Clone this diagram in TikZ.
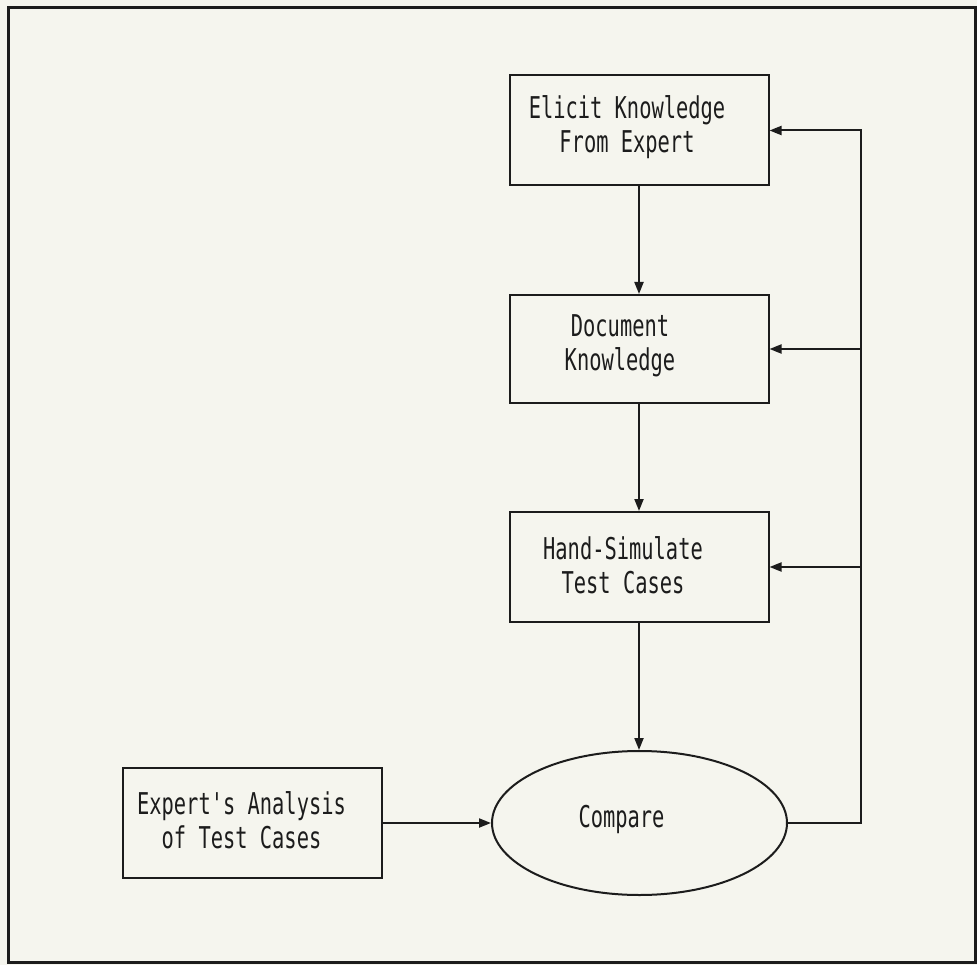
\documentclass[tikz,border=0pt]{standalone}
\usepackage{fontspec}
\newfontfamily\plotfont[FakeStretch=0.68]{DejaVu Sans Mono}
\usetikzlibrary{arrows.meta,shapes.geometric}
\definecolor{bgcol}{RGB}{245,245,238}
\definecolor{ink}{RGB}{28,28,28}
\begin{document}
\begin{tikzpicture}[x=1pt,y=-1pt,
  box/.style={draw=ink, line width=2pt, minimum width=259pt, minimum height=110pt,
    inner sep=0pt},
  oval/.style={ellipse, draw=ink, line width=2pt, minimum width=295pt, minimum height=144pt,
    inner sep=0pt},
  lbl/.style={align=center, text=ink, inner sep=0pt, font=\plotfont\fontsize{30}{34}\selectfont},
  conn/.style={draw=ink, line width=2pt, -{Triangle[length=12pt,width=9pt]}}]
\fill[bgcol] (0,0) rectangle (977,965);
\useasboundingbox (0,0) rectangle (977,965);
\draw[ink, line width=3pt] (8,8) rectangle (975,962);

\node[box, label={[lbl, xshift=-12pt, yshift=3pt]center:{Elicit Knowledge\\From Expert}}] (elicit) at (639,130.5) {};
\node[box, minimum height=108pt, label={[lbl, xshift=-19pt, yshift=3pt]center:{Document\\Knowledge}}] (doc) at (639,349) {};
\node[box, label={[lbl, xshift=-16pt, yshift=2pt]center:{Hand-Simulate\\Test Cases}}] (hand) at (639,567) {};
\node[box, label={[lbl, xshift=-11pt, yshift=3pt]center:{Expert's Analysis\\of Test Cases}}] (expert) at (252.5,823) {};
\node[oval, label={[lbl, xshift=-18pt, yshift=4pt]center:{Compare}}] (compare) at (639.5,823) {};

\coordinate (rail) at (861,0);

\draw[conn] (elicit.south) -- (doc.north);
\draw[conn] (doc.south) -- (hand.north);
\draw[conn] (hand.south) -- (hand.south |- compare.north);
\draw[conn] (expert.east) -- (compare.west);
\draw[conn] (compare.east) -- (compare.east -| rail) -- (rail |- elicit.east) -- (elicit.east);
\draw[conn] (rail |- doc.east) -- (doc.east);
\draw[conn] (rail |- hand.east) -- (hand.east);
\end{tikzpicture}
\end{document}
